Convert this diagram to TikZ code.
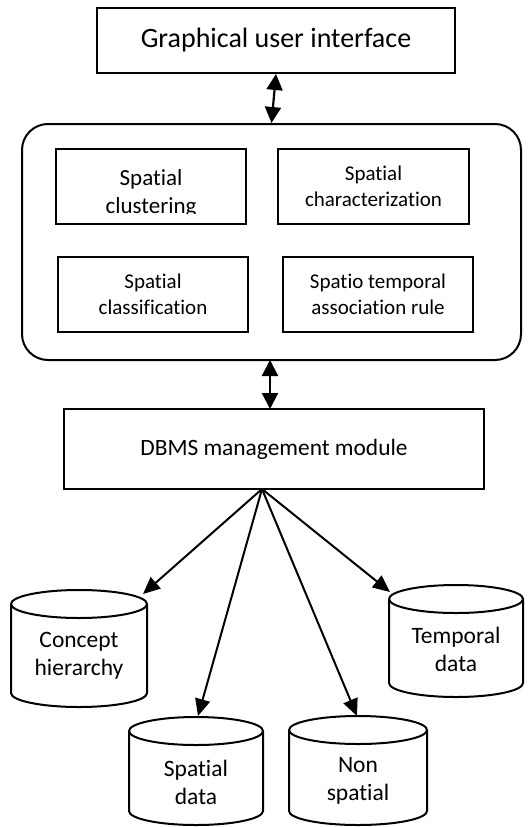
\documentclass[tikz,border=0pt]{standalone}
\usepackage{fontspec}
\setmainfont[Ligatures=NoCommon]{Carlito}
\usetikzlibrary{arrows.meta,calc}
\begin{document}
\begin{tikzpicture}[x=1pt,y=-1pt,
  box/.style={draw, line width=2pt, rectangle, inner sep=0pt, align=center},
  conn/.style={line width=2pt, -{Triangle[length=17pt,width=15pt]}},
  biconn/.style={line width=2.2pt, {Triangle[length=16pt,width=16pt]}-{Triangle[length=16pt,width=16pt]}},
  cyltext/.style={align=center, font=\fontsize{23.5}{28}\selectfont, inner sep=0pt},
  innertext/.style={font=\fontsize{21}{26}\selectfont},
  cylline/.style={line width=2pt}
]
\useasboundingbox (0,0) rectangle (530,827);

% top box
\node[box, minimum width=358pt, minimum height=65pt, font=\fontsize{28}{32}\selectfont] (gui) at (276,40.5) {Graphical user interface};

% middle rounded box
\node[box, rounded corners=26pt, minimum width=499pt, minimum height=236pt] (mid) at (271.5,242) {};

\node[box, minimum width=190pt, minimum height=75pt] (clus) at (151,186.5) {};
\begin{scope}
  \clip (56,149) rectangle (246,213.3);
  \node[align=center, inner sep=0pt, font=\fontsize{23}{28}\selectfont] (clustxt) at (151,193) {Spatial\\clustering};
\end{scope}
\node[box, minimum width=191pt, minimum height=75pt, innertext] (char) at (373.5,186.5) {Spatial\\characterization};
\node[box, minimum width=190pt, minimum height=75pt, innertext] (class) at (153,294.5) {Spatial\\classification};
\node[box, minimum width=190pt, minimum height=75pt, innertext] (assoc) at (378,294.5) {Spatio temporal\\association rule};

% DBMS box
\node[box, minimum width=420pt, minimum height=80pt, font=\fontsize{23.4}{28}\selectfont] (dbms) at (274,449) {DBMS management module};

% connectors top
\draw[biconn] (gui.south) -- (mid.north);
\coordinate (midout) at (270,360);
\coordinate (dbmsin) at (270,409);
\draw[biconn] (midout) -- (dbmsin);

% cylinders
% Concept hierarchy
\draw[cylline] (11,604) -- (11,693) arc[start angle=180, end angle=0, x radius=68, y radius=14] -- (147,604);
\draw[cylline] (79,604) ellipse[x radius=68, y radius=14];
\node[cyltext] (concept) at (79,656) {Concept\\hierarchy};
% Temporal data
\draw[cylline] (389,599) -- (389,683) arc[start angle=180, end angle=0, x radius=67, y radius=14] -- (523,599);
\draw[cylline] (456,599) ellipse[x radius=67, y radius=14];
\node[cyltext] (temporal) at (456,649) {Temporal\\data};
% Spatial data
\draw[cylline] (129,731) -- (129,811) arc[start angle=180, end angle=0, x radius=67, y radius=14] -- (263,731);
\draw[cylline] (196,731) ellipse[x radius=67, y radius=14];
\node[cyltext] (spatial) at (196,782) {Spatial\\data};
% Non spatial
\draw[cylline] (289,730) -- (289,811) arc[start angle=180, end angle=0, x radius=69, y radius=14] -- (427,730);
\draw[cylline] (358,730) ellipse[x radius=69, y radius=14];
\node[cyltext] (nonspatial) at (358,781) {Non\\spatial};

% fan connectors
\coordinate (fan) at (262,489);
\coordinate (conceptin) at (143,594);
\coordinate (temporalin) at (390,592);
\coordinate (spatialin) at (198,716);
\coordinate (nonspatialin) at (357,716);
\draw[conn] (fan) -- (conceptin);
\draw[conn] (fan) -- (spatialin);
\draw[conn] (fan) -- (nonspatialin);
\draw[conn] (fan) -- (temporalin);
\end{tikzpicture}
\end{document}
